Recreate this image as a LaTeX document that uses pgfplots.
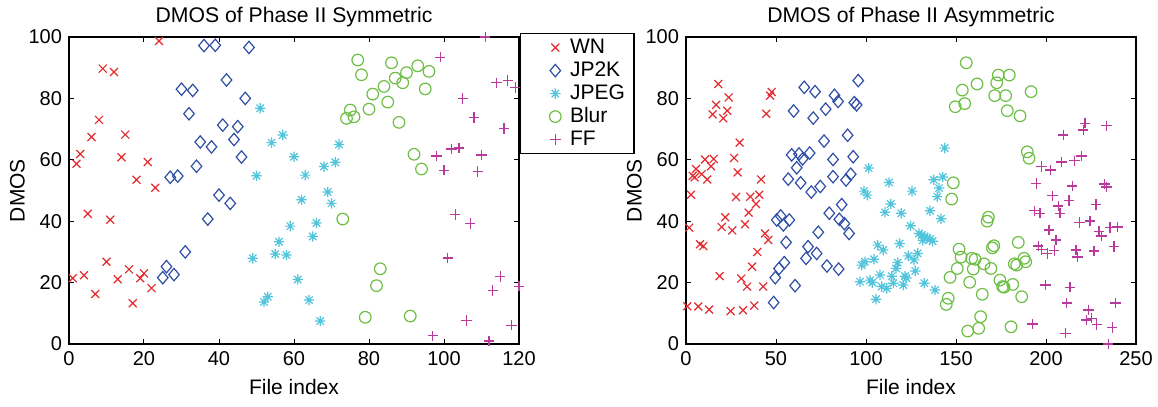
\documentclass[border=0pt]{standalone}
\usepackage{fontspec}
\setmainfont{Liberation Sans}
\usepackage{pgfplots}
\pgfplotsset{compat=1.18}
\usetikzlibrary{plotmarks}
\definecolor{cwn}{HTML}{E42A2E}
\definecolor{cjp}{HTML}{2F4FA6}
\definecolor{cjpeg}{HTML}{52C4DC}
\definecolor{cblur}{HTML}{6DBE44}
\definecolor{cff}{HTML}{B93A9C}
% matlab style 8-arm asterisk
\pgfdeclareplotmark{ast8}{%
  \pgfpathmoveto{\pgfqpoint{-\pgfplotmarksize}{0pt}}\pgfpathlineto{\pgfqpoint{\pgfplotmarksize}{0pt}}%
  \pgfpathmoveto{\pgfqpoint{0pt}{-\pgfplotmarksize}}\pgfpathlineto{\pgfqpoint{0pt}{\pgfplotmarksize}}%
  \pgfpathmoveto{\pgfqpoint{-.707\pgfplotmarksize}{-.707\pgfplotmarksize}}\pgfpathlineto{\pgfqpoint{.707\pgfplotmarksize}{.707\pgfplotmarksize}}%
  \pgfpathmoveto{\pgfqpoint{-.707\pgfplotmarksize}{.707\pgfplotmarksize}}\pgfpathlineto{\pgfqpoint{.707\pgfplotmarksize}{-.707\pgfplotmarksize}}%
  \pgfusepathqstroke}
% wider diamond than the tikz one
\pgfdeclareplotmark{dia}{%
  \pgfpathmoveto{\pgfqpoint{0pt}{\pgfplotmarksize}}%
  \pgfpathlineto{\pgfqpoint{.85\pgfplotmarksize}{0pt}}%
  \pgfpathlineto{\pgfqpoint{0pt}{-\pgfplotmarksize}}%
  \pgfpathlineto{\pgfqpoint{-.85\pgfplotmarksize}{0pt}}%
  \pgfpathclose\pgfusepathqstroke}
\pgfplotsset{
  dmos/.style={
    scale only axis, width=225pt, height=153.5pt,
    ymin=0, ymax=100, ytick={0,20,...,100},
    tick align=inside, tick pos=both, major tick length=2.5pt,
    axis line style={line width=0.7pt},
    every tick/.style={black, line width=0.5pt},
    tick label style={font=\fontsize{10}{11}\selectfont},
    label style={font=\fontsize{10.5}{12}\selectfont},
    title style={font=\fontsize{10.6}{12}\selectfont, yshift=-4.5pt},
    ylabel shift=-5pt,
    /pgf/number format/assume math mode=true,
    xlabel={File index}, ylabel={DMOS},
    clip=false,
  },
  wnm/.style={mark=x, mark size=2.8pt, color=cwn, line width=0.6pt},
  jpm/.style={mark=dia, mark size=3.1pt, color=cjp, line width=0.6pt},
  jpegm/.style={mark=ast8, mark size=2.6pt, color=cjpeg, line width=0.6pt},
  blurm/.style={mark=o, mark size=2.9pt, color=cblur, line width=0.6pt},
  ffm/.style={mark=+, mark size=2.6pt, color=cff, line width=0.7pt},
  % legend sample: one mark, 15pt in from the left of a 19.5pt wide cell
  lim/.style={legend image code/.code={\path (0pt,0pt) (19.5pt,0pt); \draw[##1,/tikz/only marks] plot coordinates {(15pt,0pt)};}},
}
\begin{document}
\begin{tikzpicture}
\begin{axis}[dmos, at={(0,0)}, anchor=south west,
  xmin=0, xmax=120, xtick={0,20,...,120},
  title={DMOS of Phase II Symmetric},
  legend style={at={(1.002,1.013)}, anchor=north west, draw=black, line width=0.7pt,
    font=\fontsize{10.5}{12}\selectfont, row sep=0pt, inner xsep=2pt, inner ysep=1.2pt,
    nodes={text height=7.5pt, text depth=2pt, inner ysep=1pt, inner xsep=2.5pt}},
  legend cell align=left,
]
\addlegendimage{wnm, lim}
\addlegendimage{jpm, lim}
\addlegendimage{jpegm, lim}
\addlegendimage{blurm, lim}
\addlegendimage{ffm, lim}
\addplot[only marks, wnm, forget plot] coordinates {(1,21.4) (2,58.7) (3,61.9) (4,22.4) (5,42.4) (6,67.4) (7,16.3) (8,73) (9,89.7) (10,26.8) (11,40.5) (12,88.6) (13,21.1) (14,60.8) (15,68.2) (16,24.3) (17,13.3) (18,53.5) (19,21.4) (20,23) (21,59.3) (22,18.2) (23,50.9) (24,98.7)};
\addplot[only marks, jpm, forget plot] coordinates {(25,21.6) (26,25.2) (27,54.3) (28,22.6) (29,54.7) (30,83) (31,30) (32,75) (33,82.6) (34,57.9) (35,65.8) (36,97.2) (37,40.7) (38,64.2) (39,97.3) (40,48.5) (41,71.3) (42,86) (43,45.8) (44,66.6) (45,70.8) (46,60.9) (47,80) (48,96.6)};
\addplot[only marks, jpegm, forget plot] coordinates {(49,27.9) (50,54.8) (51,76.8) (52,13.7) (53,15.4) (54,65.6) (55,29.3) (56,33.3) (57,68.1) (58,29) (59,38.4) (60,61) (61,21) (62,47) (63,55) (64,14.3) (65,35) (66,39.4) (67,7.5) (68,57.8) (69,49.5) (70,45.8) (71,59.2) (72,65)};
\addplot[only marks, blurm, forget plot] coordinates {(73,40.7) (74,73.5) (75,76.2) (76,74) (77,92.5) (78,87.7) (79,8.7) (80,76.5) (81,81.4) (82,19) (83,24.5) (84,83.9) (85,78.8) (86,91.6) (87,86.6) (88,72.2) (89,85.1) (90,88.4) (91,9.1) (92,61.8) (93,90.6) (94,57) (95,83.1) (96,88.8)};
\addplot[only marks, ffm, forget plot] coordinates {(97,2.7) (98,61.3) (99,93.4) (100,56.6) (101,28) (102,63.5) (103,42.2) (104,63.9) (105,80) (106,7.7) (107,39.2) (108,73.8) (109,56.2) (110,61.5) (111,100) (112,1) (113,17.4) (114,85.1) (115,22) (116,70.2) (117,85.8) (118,6.1) (119,83.6) (120,18.8)};
\legend{WN,JP2K,JPEG,Blur,FF}
\end{axis}
\begin{axis}[dmos, at={(308.5pt,0)}, anchor=south west,
  xmin=0, xmax=250, xtick={0,50,...,250},
  title={DMOS of Phase II Asymmetric},
]
\addplot[only marks, wnm] coordinates {(17.9,84.7) (23.7,80.3) (16.7,77.9) (22.9,76) (14.8,74.8) (20.7,73.5) (47.6,82.1) (46.7,80.9) (44.6,75) (29.8,65.6) (10.6,60.1) (15.4,60.3) (26.7,60.6) (13.9,57.9) (5.6,57) (3.7,54.8) (4.8,54.3) (8.7,55.3) (11.8,53.6) (28.7,55.9) (41.7,53.6) (2.8,48.6) (27.8,47.9) (35.7,48) (40.7,48.6) (38.9,45.6) (34.8,42.8) (21.8,41.3) (1.8,37.9) (19.8,38.1) (25.7,37) (32.8,39) (43.9,36) (45.7,33.9) (7.8,32.5) (9.6,31.9) (39.6,30) (36.7,25.2) (18.7,22.1) (30.7,21.3) (33.9,18.7) (42.9,18.7) (0.7,12.3) (6.8,12.2) (12.8,11.2) (24.8,10.7) (31.7,11) (37.9,12.5)};
\addplot[only marks, jpm] coordinates {(65.7,83.6) (71.7,82.2) (82.5,81) (84.5,79) (59.8,75.9) (70.7,73.6) (77.6,76.5) (76.7,66.1) (58.7,61.6) (62.8,61.9) (64.8,60.3) (68.7,62.2) (81.7,60.1) (61.5,57.4) (56.8,53.7) (63.7,52.5) (74.6,51.3) (81.7,54.5) (69.6,49.5) (95.7,85.8) (93.5,78.6) (94.8,77.9) (89.8,68) (92.9,61) (91.5,55.3) (88.9,53.4) (79.6,42.6) (50.4,40.4) (52.6,41.7) (54.1,38.8) (57.4,40.4) (73.5,36.4) (55.6,33.1) (67.8,31.7) (66.7,27.9) (72.6,29.5) (54.6,26.5) (51.7,24.6) (78.3,25.4) (49.6,21.6) (60.6,19) (48.7,13.5) (86.5,45.4) (85.2,40.6) (88,39.2) (90.6,36) (84.8,24.4)};
\addplot[only marks, jpegm] coordinates {(143.7,63.8) (101.5,57.3) (112.8,52.6) (137.6,53.5) (142.6,54.4) (125.6,49.8) (98.9,49.8) (100.7,48.5) (140.6,50.8) (139.6,48) (113.7,45.6) (110.6,42.9) (119.6,42.6) (135.6,43.4) (141.7,40.8) (124.8,38.5) (129.4,36) (131,35.5) (132.6,35) (134,34.6) (135.6,34.2) (137,33.5) (131.5,33.8) (118.7,32.7) (106.5,32.2) (109.6,30.6) (104.4,27.6) (99.4,26.8) (97.6,25.7) (123.5,28.7) (126.7,27.4) (128.7,29.5) (117.6,26.5) (116.7,24.6) (127.4,23.8) (107.8,22.5) (114.3,22.1) (121.7,22.1) (122.4,21.5) (96.7,20.3) (102.2,20.8) (103.5,20) (115.2,19.8) (120.7,19.2) (132.4,19.8) (108.7,18.7) (111.5,18.1) (138.3,17.6) (105.6,14.6)};
\addplot[only marks, blurm] coordinates {(155.7,91.6) (161.7,84.7) (153.5,82.7) (154.8,78.3) (149.6,77.3) (148.5,52.5) (173.5,87.6) (179.6,87.6) (172.6,85.1) (171.5,80.9) (177.6,80.9) (191.7,82.2) (178.5,76) (185.6,74.3) (189.6,62.6) (190.6,60.5) (147.6,47.2) (168,41.3) (167.3,40) (151.7,30.9) (152.8,28.3) (158.7,27.9) (160.6,27.6) (150.7,24.6) (159.6,24.4) (165.6,26.1) (170.2,31.3) (171,32) (169.4,24.6) (146.7,21.7) (157.6,20.1) (164.6,16.2) (145.7,14.9) (144.6,12.9) (163.7,8.9) (156.5,4.2) (162.6,5.1) (184.6,33.1) (187.8,27.9) (188.7,26.8) (182.4,26.1) (183.7,25.7) (174.4,20.8) (175.9,18.7) (176.7,18.5) (181.5,19.4) (186.5,15.4) (180.6,5.6)};
\addplot[only marks, ffm] coordinates {(221.7,71.9) (220.7,69.7) (233.7,71.1) (209.6,68.1) (219.8,61.2) (215.9,59.7) (208.7,59.3) (197.6,57.8) (202.6,56.7) (194.6,52.3) (214.6,51.5) (232.6,52.1) (233.5,51.2) (203.7,48.3) (212.8,46.7) (206.8,45) (193.5,43.4) (196.7,42.6) (207.8,42.6) (227.8,45.4) (218.5,39.6) (224.4,40) (235.6,37.9) (239.8,38.1) (229.4,36.6) (230.9,35.2) (201.7,37.1) (205.6,33.9) (195.7,31.9) (197.6,30.8) (200.7,29.5) (204.6,30.4) (216.7,30.6) (217.4,28.4) (226.7,30.3) (237.8,31.7) (199.8,19.2) (213.3,18.5) (211.5,13.3) (238.7,13.3) (223.5,11.1) (222.6,7.8) (225.4,8.4) (228.2,6.3) (192.6,6.5) (236.8,5.4) (210.9,3.5) (234.6,0)};
\end{axis}
\pgfresetboundingbox
\path[use as bounding box] (-34.5pt,-31.5pt) rectangle (544.5pt,172pt);
\end{tikzpicture}
\end{document}
